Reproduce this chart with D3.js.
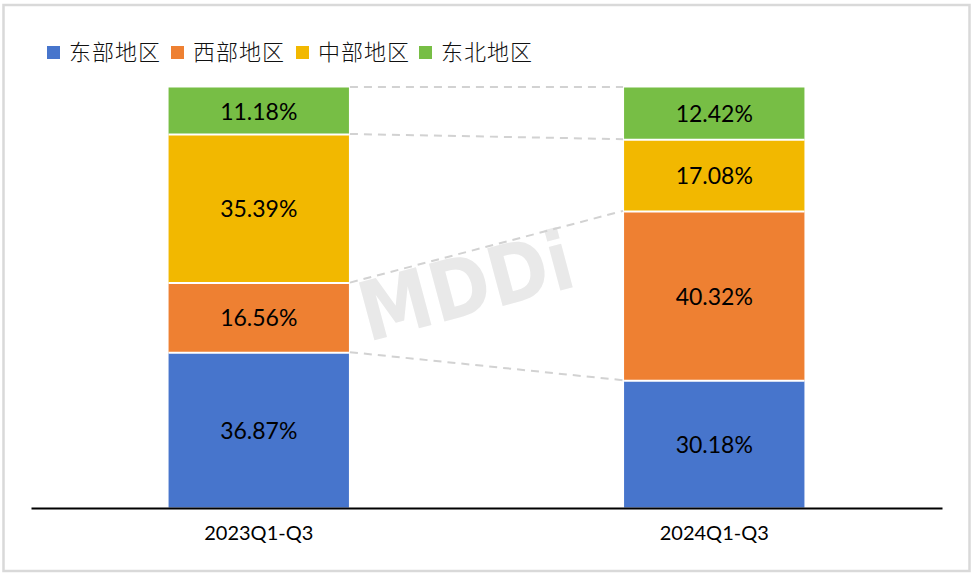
<!DOCTYPE html>
<html><head><meta charset="utf-8">
<script src="https://cdn.jsdelivr.net/npm/d3@7"></script>
<style>html,body{margin:0;padding:0;background:#fff}svg{display:block}</style></head>
<body><svg id="c" width="973" height="573"></svg>
<script>
const categories = ["2023Q1-Q3", "2024Q1-Q3"];
const seriesNames = ["东部地区", "西部地区", "中部地区", "东北地区"];
const east = [36.87, 30.18];
const west = [16.56, 40.32];
const central = [35.39, 17.08];
const northeast = [11.18, 12.42];
const colors = ["#4775CC", "#EE8032", "#F2B800", "#77BE45"];
const allSeries = [east, west, central, northeast];

const svg = d3.select("#c");
svg.append("rect").attr("x",3.5).attr("y",5).attr("width",966).attr("height",566)
  .attr("fill","#fff").attr("stroke","#d9d9d9").attr("stroke-width",2.5);

const x = d3.scaleBand().domain(categories).range([31,942]).paddingInner(0.604).paddingOuter(0.302);
const y = d3.scaleLinear().domain([0,100]).range([507.5,87.5]);

// watermark
svg.append("text").text("MDDi")
  .attr("transform","translate(368,342) rotate(-15)")
  .attr("font-family","'DejaVu Sans',sans-serif").attr("font-weight",700)
  .attr("font-size",82).attr("textLength",218).attr("lengthAdjust","spacingAndGlyphs")
  .attr("fill","#e9e9e9");

const rows = categories.map((c,i)=>{
  const o={cat:c}; seriesNames.forEach((s,j)=>o[s]=allSeries[j][i]); return o;
});
const stacked = d3.stack().keys(seriesNames)(rows);

// connectors
const bw = x.bandwidth();
const connG = svg.append("g");
stacked.forEach(layer=>{
  connG.append("line")
    .attr("x1",x(categories[0])+bw+1).attr("y1",y(layer[0][1])-0.5)
    .attr("x2",x(categories[1])-1).attr("y2",y(layer[1][1])-0.5)
    .attr("stroke","#d2d2d2").attr("stroke-width",2).attr("stroke-dasharray","8 6");
});

// bars
stacked.forEach((layer,j)=>{
  svg.append("g").selectAll("rect").data(layer).join("rect")
    .attr("x",d=>x(d.data.cat)).attr("width",bw)
    .attr("y",d=>y(d[1])).attr("height",d=>y(d[0])-y(d[1]))
    .attr("fill",colors[j]);
});
// separators and value labels, above every bar
stacked.forEach((layer,j)=>{
  const g = svg.append("g");
  g.selectAll("line").data(layer.filter(()=>j<3)).join("line")
    .attr("x1",d=>x(d.data.cat)).attr("x2",d=>x(d.data.cat)+bw)
    .attr("y1",d=>y(d[1])).attr("y2",d=>y(d[1]))
    .attr("stroke","#fff").attr("stroke-width",2);
  g.selectAll("text").data(layer).join("text")
    .attr("x",d=>x(d.data.cat)+bw/2).attr("y",d=>(y(d[0])+y(d[1]))/2+8.6)
    .attr("text-anchor","middle").attr("font-family","Lato,sans-serif").attr("font-size",23)
    .attr("fill","#000").text(d=>(d[1]-d[0]).toFixed(2)+"%");
});

// axis
const axis = svg.append("g").attr("transform","translate(0,508)").call(d3.axisBottom(x).tickSize(0).tickPadding(18));
axis.select(".domain").attr("stroke","#000").attr("stroke-width",2);
axis.selectAll("text").attr("font-family","Lato,sans-serif").attr("font-size",20).attr("fill","#000");

// legend
const legendX = [47,171,296,419];
seriesNames.forEach((s,i)=>{
  svg.append("rect").attr("x",legendX[i]).attr("y",46).attr("width",13).attr("height",13).attr("fill",colors[i]);
  svg.append("text").attr("x",legendX[i]+22).attr("y",60).text(s)
    .attr("font-family","'Noto Sans CJK SC',sans-serif").attr("font-weight",300).attr("font-size",22)
    .attr("letter-spacing",1).attr("fill","#111");
});
</script></body></html>
